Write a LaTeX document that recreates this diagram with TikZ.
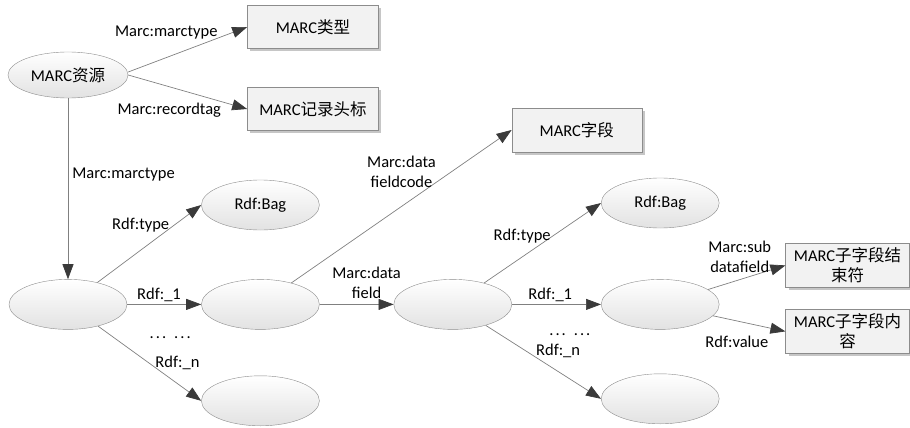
\documentclass[tikz,border=0pt]{standalone}
\usepackage{fontspec}
\setmainfont{Carlito}
\newfontfamily\cjk{Noto Sans CJK SC}
\usepackage{tikz}
\usetikzlibrary{arrows.meta,positioning,calc,shapes.geometric,shadows}
\definecolor{rdfline}{HTML}{808080}
\definecolor{rdftip}{HTML}{3A3A3A}
\definecolor{rdfborder}{HTML}{8C8C8C}
\definecolor{rdfbox}{HTML}{F2F2F2}
\definecolor{rdfshade}{HTML}{E2E2E2}
\newcommand{\rdfdots}{.\kern2pt.\kern2pt.\hspace{8pt}.\kern2pt.\kern2pt.}

\begin{document}
\begin{tikzpicture}[font=\fontsize{16.5}{20}\selectfont, >={Triangle[length=15pt,width=11pt,color=rdftip]}]
  \tikzstyle{ell}=[ellipse,draw=rdfborder,top color=white,bottom color=rdfshade,minimum width=118pt,minimum height=50pt,inner sep=0pt]
  \tikzstyle{cls}=[rectangle,draw=rdfborder,fill=rdfbox,minimum width=131pt,minimum height=43pt,align=center,inner sep=2pt,drop shadow={shadow xshift=3pt,shadow yshift=-3pt,fill=gray!45,opacity=1}]
  \tikzstyle{link}=[draw=rdfline,line width=0.7pt,->]
  \tikzstyle{lbl}=[inner sep=1pt,align=center]
  \useasboundingbox (-68pt,75pt) rectangle (842pt,-353pt);
  % resource and its two typed values
  \node[ell,minimum width=120pt,minimum height=46pt] (res) at (0,0) {MARC{\cjk 资源}};
  \node[cls,right=119pt of res,yshift=48pt] (typ) {MARC{\cjk 类型}};
  \node[cls,right=119pt of res,yshift=-34pt] (tag) {MARC{\cjk 记录头标}};
  % field bag
  \node[ell,below=181pt of res] (b0) {};
  \node[ell,right=74pt of b0] (n1) {};
  \node[ell,above=49pt of n1] (bag1) {Rdf:Bag};
  \node[ell,below=46pt of n1] (n2) {};
  \node[cls,minimum width=130pt,minimum height=44pt,right=192pt of bag1,yshift=75pt] (fld) {MARC{\cjk 字段}};
  % subfield bag
  \node[ell,right=74pt of n1] (d0) {};
  \node[ell,right=89pt of d0] (s1) {};
  \node[ell,above=51pt of s1] (bag2) {Rdf:Bag};
  \node[ell,below=44pt of s1] (s2) {};
  \node[cls,minimum width=124pt,minimum height=44pt,right=66pt of s1,yshift=39pt] (sfend) {MARC{\cjk 子字段结}\\{\cjk 束符}};
  \node[cls,minimum width=124pt,minimum height=44pt,right=66pt of s1,yshift=-27pt] (sfval) {MARC{\cjk 子字段内}\\{\cjk 容}};
  % properties
  \draw[link] ([yshift=3pt]res.east) -- node[lbl,pos=0.32,yshift=25pt] {Marc:marctype} (typ.west);
  \draw[link] (res.east) -- node[lbl,pos=0.345,yshift=-23pt] {Marc:recordtag} (tag.west);
  \draw[link] (res) -- node[lbl,pos=0.42,right=3pt] {Marc:marctype} (b0);
  \draw[link] (b0) -- node[lbl,pos=0.6,xshift=-19pt,yshift=11pt] {Rdf:type} (bag1.west);
  \draw[link] (b0) -- node[lbl,pos=0.43,yshift=10pt] {Rdf:\_1} (n1);
  \draw[link] (b0) -- node[lbl,pos=0.77,yshift=21pt] {Rdf:\_n} node[lbl,pos=0.7,yshift=41pt] {\rdfdots} (n2.west);
  \draw[link] (n1) -- node[lbl,pos=0.5,yshift=35pt] {Marc:data\\fieldcode} (fld.west);
  \draw[link] (n1) -- node[lbl,pos=0.635,yshift=22pt] {Marc:data\\field} (d0);
  \draw[link] (d0) -- node[lbl,pos=0.36,xshift=-4pt,yshift=18pt] {Rdf:type} (bag2.west);
  \draw[link] (d0) -- node[lbl,pos=0.43,yshift=10pt] {Rdf:\_1} (s1);
  \draw[link] (d0) -- node[lbl,pos=0.628,yshift=21pt] {Rdf:\_n} node[lbl,pos=0.73,yshift=44pt] {\rdfdots} (s2.west);
  \draw[link] (s1) -- node[lbl,pos=0.41,yshift=23pt] {Marc:sub\\datafield} (sfend.west);
  \draw[link] (s1) -- node[lbl,pos=0.33,yshift=-21pt] {Rdf:value} (sfval.west);
\end{tikzpicture}
\end{document}
